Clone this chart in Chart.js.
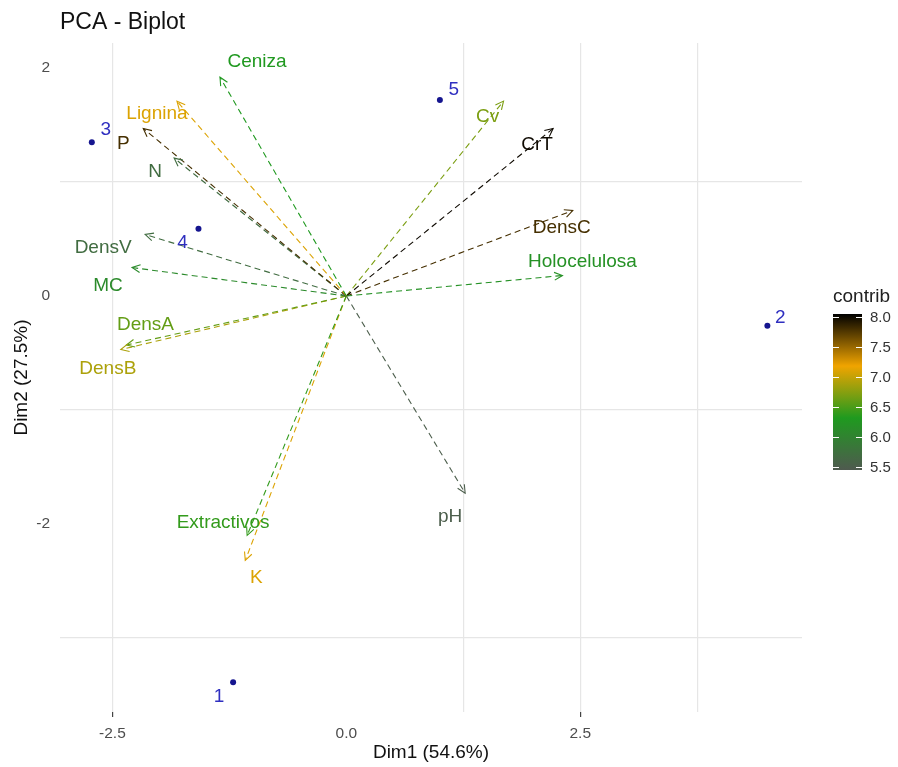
<!DOCTYPE html>
<html><head><meta charset="utf-8">
<script src="https://cdn.jsdelivr.net/npm/chart.js@4.4.1/dist/chart.umd.min.js"></script>
<style>html,body{margin:0;padding:0;background:#fff;}canvas{display:block;}</style>
</head><body>
<canvas id="c" width="898" height="767"></canvas>
<script>
// ---------- DATA ----------
const varNames   = ['Ceniza','Lignina','P','N','DensV','MC','DensA','DensB','Extractivos','K','pH','Holocelulosa','DensC','CrT','Cv'];
const varDim1    = [-1.35,-1.81,-2.17,-1.84,-2.15,-2.29,-2.35,-2.41,-1.06,-1.08, 1.27, 2.31, 2.42, 2.21, 1.68];
const varDim2    = [ 1.92, 1.71, 1.47, 1.21, 0.54, 0.25,-0.43,-0.47,-2.10,-2.32,-1.73, 0.18, 0.75, 1.47, 1.71];
const varContrib = [ 6.3, 7.1, 7.8, 5.7, 5.7, 6.1, 6.6, 6.9, 6.4, 7.1, 5.5, 6.2, 7.8, 8.0, 6.7];
const indNames   = ['1','2','3','4','5'];
const indDim1    = [-1.21, 4.50,-2.72,-1.58, 1.00];
const indDim2    = [-3.39,-0.26, 1.35, 0.59, 1.72];
const xTickValues = [-2.5, 0, 2.5];
const yTickValues = [-2, 0, 2];
const contribTicks = [5.5, 6.0, 6.5, 7.0, 7.5, 8.0];
const contribRange = [5.45, 8.05];

// ---------- STYLE ----------
const FONT = "'Liberation Sans', Arial, Helvetica, sans-serif";
Chart.defaults.font.family = FONT;
const gradStops = [[0,'#4f5a4f'],[1/3,'#1f9a1f'],[2/3,'#f0a400'],[1,'#000000']];
function hex2rgb(h){return [parseInt(h.substr(1,2),16),parseInt(h.substr(3,2),16),parseInt(h.substr(5,2),16)];}
function contribColor(v){
  let t=(v-contribRange[0])/(contribRange[1]-contribRange[0]); t=Math.max(0,Math.min(1,t));
  for(let i=1;i<gradStops.length;i++){
    if(t<=gradStops[i][0]){
      const a=gradStops[i-1], b=gradStops[i]; const f=(t-a[0])/(b[0]-a[0]);
      const ca=hex2rgb(a[1]), cb=hex2rgb(b[1]);
      return 'rgb('+ca.map((c,k)=>Math.round(c+(cb[k]-c)*f)).join(',')+')';
    }
  }
  return gradStops[gradStops.length-1][1];
}
const varLabelNudge = {Ceniza:[37,-15],Lignina:[-20,13],P:[-20,15],N:[-19,14],DensV:[-42,13],MC:[-24,18],DensA:[19,-20],DensB:[-13,19],Extractivos:[-24,-13],K:[11,17],pH:[-15,24],Holocelulosa:[20,-14],DensC:[-11,17],CrT:[-16,16],Cv:[-16,16]};
const indLabelNudge = {'1':[-14,14],'2':[13,-8],'3':[14,-12],'4':[-16,14],'5':[14,-10]};
const xGridShown = [-2.5, 1.25, 2.5, 3.75];
const yGridShown = [1, -1, -3];

// ---------- DATASETS ----------
const datasets = [];
varNames.forEach((n,i)=>{
  const col = contribColor(varContrib[i]);
  datasets.push({label:n, data:[{x:0,y:0},{x:varDim1[i],y:varDim2[i]}], showLine:true, pointRadius:0,
    borderColor:col, backgroundColor:col, borderWidth:1.1, borderDash:[6,4], isVar:true, varColor:col});
});
datasets.push({label:'ind', data:indDim1.map((x,i)=>({x:x,y:indDim2[i]})), pointRadius:3,
  backgroundColor:'#15158f', borderColor:'#15158f', borderWidth:0, showLine:false, isInd:true});

// ---------- PLUGIN ----------
const decor = {
  id:'decor',
  beforeDraw(chart){const c=chart.ctx; c.save(); c.fillStyle='#fff'; c.fillRect(0,0,chart.width,chart.height); c.restore();},
  afterDatasetsDraw(chart){
    const c=chart.ctx; c.save();
    chart.data.datasets.forEach((ds,di)=>{
      if(!ds.isVar) return;
      const m=chart.getDatasetMeta(di); const p0=m.data[0], p1=m.data[1];
      const ang=Math.atan2(p1.y-p0.y,p1.x-p0.x); const L=9, a=Math.PI/7;
      c.strokeStyle=ds.varColor; c.lineWidth=1.1; c.setLineDash([]);
      c.beginPath();
      c.moveTo(p1.x-L*Math.cos(ang-a),p1.y-L*Math.sin(ang-a)); c.lineTo(p1.x,p1.y);
      c.lineTo(p1.x-L*Math.cos(ang+a),p1.y-L*Math.sin(ang+a)); c.stroke();
      const nd=varLabelNudge[ds.label]||[0,0];
      c.fillStyle=ds.varColor; c.font='19px '+FONT; c.textAlign='center'; c.textBaseline='middle';
      c.fillText(ds.label,p1.x+nd[0],p1.y+nd[1]);
    });
    chart.data.datasets.forEach((ds,di)=>{
      if(!ds.isInd) return;
      const m=chart.getDatasetMeta(di);
      m.data.forEach((pt,k)=>{
        const nd=indLabelNudge[indNames[k]]||[0,0];
        c.fillStyle='#2f2fc0'; c.font='19px '+FONT; c.textAlign='center'; c.textBaseline='middle';
        c.fillText(indNames[k],pt.x+nd[0],pt.y+nd[1]);
      });
    });
    c.fillStyle='#111'; c.font='23px '+FONT; c.textAlign='left'; c.textBaseline='middle';
    c.fillText('PCA - Biplot', chart.chartArea.left, 23);
    const bx=833, bw=29, btop=314, bbot=470;
    const vy=v=>bbot-(v-contribRange[0])/(contribRange[1]-contribRange[0])*(bbot-btop);
    const g=c.createLinearGradient(0,bbot,0,btop);
    gradStops.forEach(s=>g.addColorStop(s[0],s[1]));
    c.fillStyle=g; c.fillRect(bx,btop,bw,bbot-btop);
    c.strokeStyle='#fff'; c.lineWidth=1;
    c.font='15px '+FONT; c.textAlign='left'; c.textBaseline='middle';
    contribTicks.forEach(v=>{
      const y=Math.round(vy(v))+0.5;
      c.beginPath(); c.moveTo(bx,y); c.lineTo(bx+6,y); c.moveTo(bx+bw-6,y); c.lineTo(bx+bw,y); c.stroke();
      c.fillStyle='#333'; c.fillText(v.toFixed(1),bx+bw+8,y);
    });
    c.fillStyle='#222'; c.font='19px '+FONT; c.textAlign='left'; c.textBaseline='middle';
    c.fillText('contrib',bx,297);
    c.restore();
  }
};

// ---------- CHART ----------
const xAll=[-2.5,-1.25,0,1.25,2.5,3.75];
const yAll=[2,1,0,-1,-2,-3];
new Chart(document.getElementById('c'),{
  type:'scatter',
  data:{datasets:datasets},
  options:{
    responsive:false, animation:false, events:[],
    layout:{padding:{left:0,right:96,top:43,bottom:0}},
    plugins:{legend:{display:false},tooltip:{enabled:false},title:{display:false}},
    scales:{
      x:{type:'linear',min:-3.06,max:4.87,
        afterBuildTicks:s=>{s.ticks=xAll.map(v=>({value:v}));},
        afterFit:s=>{s.height=55;},
        border:{display:false},
        grid:{color:ctx=>xGridShown.includes(ctx.tick&&ctx.tick.value)?'#e6e6e6':'rgba(0,0,0,0)',lineWidth:1.2,
              drawTicks:true,tickLength:5,tickColor:ctx=>(ctx.tick&&Math.abs(ctx.tick.value)===2.5)?'#444':'rgba(0,0,0,0)'},
        ticks:{autoSkip:false,maxRotation:0,padding:7,color:'#4d4d4d',font:{size:15.5},
               callback:v=>xTickValues.includes(v)?v.toFixed(1):''},
        title:{display:true,text:'Dim1 (54.6%)',color:'#111',font:{size:19},padding:{top:0,bottom:3}}
      },
      y:{type:'linear',min:-3.65,max:2.22,
        afterBuildTicks:s=>{s.ticks=yAll.map(v=>({value:v}));},
        afterFit:s=>{s.width=60;},
        border:{display:false},
        grid:{color:ctx=>yGridShown.includes(ctx.tick&&ctx.tick.value)?'#e6e6e6':'rgba(0,0,0,0)',lineWidth:1.2,drawTicks:false},
        ticks:{autoSkip:false,padding:10,color:'#4d4d4d',font:{size:15.5},
               callback:v=>yTickValues.includes(v)?String(v):''},
        title:{display:true,text:'Dim2 (27.5%)',color:'#111',font:{size:19},padding:{top:10,bottom:0}}
      }
    }
  },
  plugins:[decor]
});
</script>
</body></html>
